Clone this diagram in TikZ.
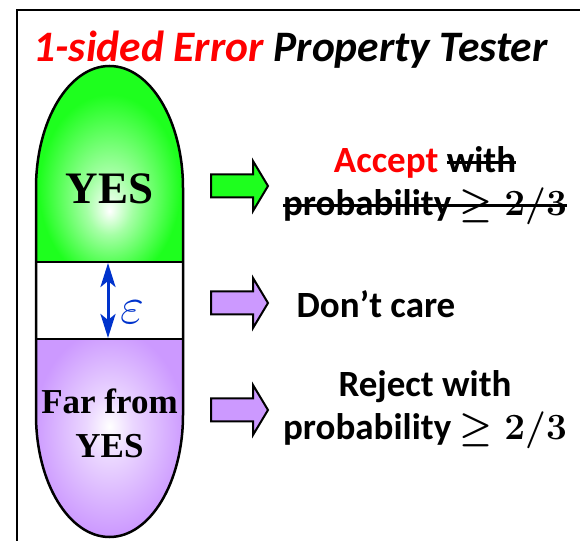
\documentclass[tikz,border=0pt]{standalone}
\usepackage{fix-cm}
\usepackage{fontspec}
\setmainfont{Carlito}
\newfontfamily\timesbf{Liberation Serif}
\newcommand\strikeout[1]{\setbox0\hbox{#1}\rlap{\rule[0.5ex]{\wd0}{2.5pt}}\box0}
\usetikzlibrary{arrows.meta}
\definecolor{capgreen}{RGB}{30,255,30}
\definecolor{cappurple}{RGB}{204,153,255}
\definecolor{epsblue}{RGB}{0,51,204}
\pgfdeclareradialshading{greenglow}{\pgfpoint{0bp}{-12bp}}{color(0bp)=(white); color(8bp)=(capgreen!40!white); color(24bp)=(capgreen); color(50bp)=(capgreen)}
\pgfdeclareradialshading{purpleglow}{\pgfpoint{0bp}{3bp}}{color(0bp)=(white); color(8bp)=(cappurple!40!white); color(26bp)=(cappurple); color(50bp)=(cappurple)}
\tikzset{
  label/.style={font=\fontsize{37}{43}\selectfont\bfseries\boldmath, align=center},
  capfont/.style={font=\fontsize{#1}{44}\selectfont\timesbf\bfseries, align=center},
  blockarrow/.style={line width=2pt, line join=miter},
}
\begin{document}
\begin{tikzpicture}[x=1pt, y=1pt]
	\useasboundingbox (0,0) rectangle (580,540);
	% frame
	\draw[line width=2pt] (17,-10) rectangle (600,530);

	% title
	\node[anchor=base west, font=\fontsize{43.5}{48}\selectfont\bfseries\itshape] (title) at (30,478)
		{{\color{red}1-sided Error} Property Tester};

	% capsule
	\shade[shading=greenglow] (36,278) -- (36,352) arc[start angle=180, end angle=0, x radius=73.5, y radius=122] -- (183,278) -- cycle;
	\shade[shading=purpleglow] (36,201) -- (36,125) arc[start angle=180, end angle=360, x radius=73.5, y radius=122] -- (183,201) -- cycle;
	\draw[line width=2.5pt] (36,125) -- (36,352) arc[start angle=180, end angle=0, x radius=73.5, y radius=122]
		-- (183,125) arc[start angle=0, end angle=-180, x radius=73.5, y radius=122];
	\draw[line width=2.5pt] (36,278) -- (183,278);
	\draw[line width=2.5pt] (36,201) -- (183,201);
	\node[anchor=base, capfont=45] (yes) at (109.5,336) {YES};
	\node[capfont=35] (far) at (109.5,117) {Far from\\YES};

	% epsilon gap
	\coordinate (epstop) at (108,277);
	\coordinate (epsbot) at (108,202);
	\draw[epsblue, line width=3pt, {Stealth[length=24pt, width=15pt, inset=6pt]}-{Stealth[length=24pt, width=15pt, inset=6pt]}] (epstop) -- (epsbot);
	\node[epsblue, font=\fontsize{52}{52}\selectfont] (eps) at (132,228) {$\varepsilon$};

	% arrows
	\foreach \y/\c in {354/capgreen, 237/cappurple, 130/cappurple}
		\draw[blockarrow, fill=\c] (211,\y-11.5) -- (253,\y-11.5) -- (253,\y-25) -- (268,\y)
			-- (253,\y+25) -- (253,\y+11.5) -- (211,\y+11.5) -- cycle;

	% answers
	\node[label] (accept) at (425,354) {{\color{red}Accept} \strikeout{with}\\\strikeout{probability $\geq 2/3$}};
	\node[label, anchor=base] (dontcare) at (376,222) {Don’t care};
	\node[label] (reject) at (425,130) {Reject with\\probability $\geq 2/3$};
\end{tikzpicture}
\end{document}
